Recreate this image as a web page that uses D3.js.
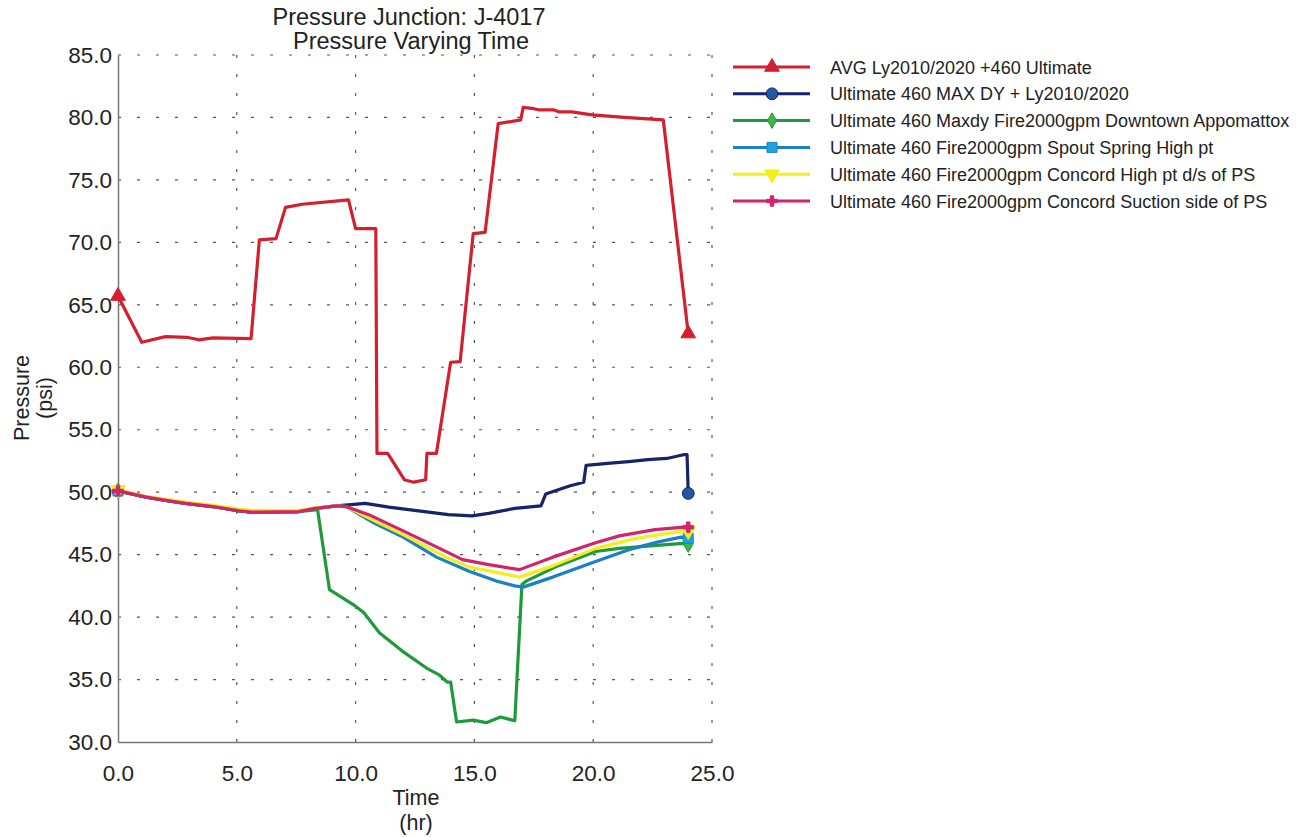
<!DOCTYPE html>
<html>
<head>
<meta charset="utf-8">
<script src="https://cdn.jsdelivr.net/npm/d3@7"></script>
<style>
  body { margin: 0; background: #fff; }
  svg text { font-family: "Liberation Sans", Arial, sans-serif; fill: #222; }
  .grid line { stroke: #555; stroke-width: 1.2; stroke-dasharray: 3, 16; }
  .series { fill: none; stroke-width: 3.2; stroke-linejoin: round; }
</style>
</head>
<body>
<svg id="chart" width="1304" height="837"></svg>
<script>
// values (time in hr, pressure in psi)
var avgT = [0, 1, 2, 2.9, 3.4, 4, 5.6, 5.95, 6.65, 7.05, 7.75, 9.15, 9.7, 10.0, 10.85, 10.9, 11.35, 12.05, 12.45, 12.95, 13.0, 13.4, 14.0, 14.4, 14.95, 15.45, 16.0, 16.95, 17.05, 17.5, 17.75, 18.35, 18.55, 19.1, 19.95, 21.3, 22.95, 24];
var avgP = [65.7, 62.0, 62.45, 62.4, 62.2, 62.35, 62.3, 70.2, 70.3, 72.8, 73.05, 73.3, 73.4, 71.1, 71.1, 53.1, 53.1, 51.0, 50.8, 51.0, 53.1, 53.1, 60.4, 60.45, 70.7, 70.8, 79.5, 79.8, 80.8, 80.7, 80.6, 80.6, 80.45, 80.45, 80.2, 80.0, 79.8, 62.7];

var maxT = [0, 1.2, 2.15, 2.85, 4.0, 5.1, 5.65, 7.6, 8.3, 9.2, 10.4, 11.4, 12.65, 13.9, 14.9, 15.6, 16.7, 17.8, 18.0, 19.0, 19.6, 19.7, 20.6, 21.5, 22.3, 23.1, 23.8, 23.95, 24];
var maxP = [50.1, 49.6, 49.3, 49.1, 48.85, 48.5, 48.4, 48.45, 48.7, 48.9, 49.1, 48.8, 48.5, 48.2, 48.1, 48.3, 48.7, 48.9, 49.85, 50.5, 50.8, 52.15, 52.3, 52.45, 52.6, 52.7, 53.0, 53.0, 49.9];

var downtownT = [0, 1.2, 2.15, 2.85, 4.0, 5.1, 5.65, 7.6, 8.4, 8.9, 9.9, 10.35, 11.0, 11.95, 13.0, 13.5, 13.85, 14.0, 14.25, 14.95, 15.5, 16.1, 16.7, 17.0, 17.2, 18.4, 20.1, 21.1, 22.4, 23.8, 24];
var downtownP = [50.1, 49.6, 49.3, 49.1, 48.85, 48.5, 48.4, 48.45, 48.6, 42.2, 41.0, 40.35, 38.75, 37.3, 35.9, 35.4, 34.8, 34.8, 31.6, 31.75, 31.55, 32.0, 31.7, 42.6, 42.9, 44.0, 45.25, 45.5, 45.7, 45.9, 45.8];

var spoutT = [0, 1.2, 2.15, 2.85, 4.0, 5.1, 5.65, 7.6, 8.3, 9.2, 9.6, 10.8, 12.0, 13.4, 14.8, 15.9, 16.7, 17.05, 18.3, 20.1, 21.5, 22.7, 23.7, 24];
var spoutP = [50.1, 49.6, 49.3, 49.1, 48.85, 48.5, 48.4, 48.45, 48.7, 48.9, 48.85, 47.5, 46.4, 44.8, 43.65, 42.9, 42.5, 42.4, 43.2, 44.45, 45.4, 46.0, 46.4, 46.3];

var concordHighT = [0, 1.2, 2.15, 2.85, 4.0, 5.1, 5.65, 7.6, 8.3, 9.2, 9.6, 10.8, 12.0, 13.8, 14.8, 15.9, 16.9, 18.3, 20.1, 21.8, 23.8, 24];
var concordHighP = [50.2, 49.65, 49.4, 49.2, 48.95, 48.65, 48.55, 48.55, 48.75, 48.9, 48.85, 47.7, 46.6, 44.8, 44.0, 43.6, 43.2, 44.1, 45.5, 46.3, 46.9, 46.9];

var concordSucT = [0, 1.2, 2.15, 2.85, 4.0, 5.1, 5.65, 7.6, 8.3, 9.2, 9.6, 10.55, 11.0, 12.0, 13.1, 14.5, 15.6, 16.9, 18.3, 20.1, 21.1, 22.6, 23.8, 24];
var concordSucP = [50.1, 49.6, 49.3, 49.1, 48.85, 48.5, 48.4, 48.45, 48.7, 48.9, 48.85, 48.2, 47.8, 46.9, 45.9, 44.6, 44.2, 43.8, 44.8, 45.95, 46.5, 47.0, 47.2, 47.2];

var seriesNames = [
  "AVG Ly2010/2020 +460 Ultimate",
  "Ultimate 460 MAX DY + Ly2010/2020",
  "Ultimate 460 Maxdy Fire2000gpm Downtown Appomattox",
  "Ultimate 460 Fire2000gpm Spout Spring High pt",
  "Ultimate 460 Fire2000gpm Concord High pt d/s of PS",
  "Ultimate 460 Fire2000gpm Concord Suction side of PS"
];
var xTicks = [0, 5, 10, 15, 20, 25];
var yTicks = [30, 35, 40, 45, 50, 55, 60, 65, 70, 75, 80, 85];

var styles = [
  {color: "#d3202f", mark: d3.symbolTriangle, size: 95, fill: "#d3202f", rot: 0},
  {color: "#16246a", mark: d3.symbolCircle, size: 110, fill: "#2456a8", rot: 0},
  {color: "#20993a", mark: d3.symbolDiamond, size: 70, fill: "#3cb54a", rot: 0},
  {color: "#1c80c4", mark: d3.symbolSquare, size: 100, fill: "#1fa3e0", rot: 0},
  {color: "#f4ee1c", mark: d3.symbolTriangle, size: 95, fill: "#f4ee1c", rot: 180},
  {color: "#d0246c", mark: d3.symbolCross, size: 60, fill: "#d0246c", rot: 0}
];
var seriesT = [avgT, maxT, downtownT, spoutT, concordHighT, concordSucT];
var seriesP = [avgP, maxP, downtownP, spoutP, concordHighP, concordSucP];

var svg = d3.select("#chart");
svg.append("rect").attr("width", 1304).attr("height", 837).attr("fill", "#fff");

var plotLeft = 118, plotRight = 712, plotTop = 55, plotBottom = 742;
var x = d3.scaleLinear().domain([0, 25]).range([plotLeft, plotRight]);
var y = d3.scaleLinear().domain([30, 85]).range([plotBottom, plotTop]);

// dotted grid
var grid = svg.append("g").attr("class", "grid");
grid.selectAll(".h").data(yTicks.slice(1)).enter().append("line")
  .attr("x1", plotLeft).attr("x2", plotRight)
  .attr("y1", function(d){ return y(d); }).attr("y2", function(d){ return y(d); });
grid.selectAll(".v").data(xTicks.slice(1)).enter().append("line")
  .attr("y1", plotTop).attr("y2", plotBottom)
  .attr("x1", function(d){ return x(d); }).attr("x2", function(d){ return x(d); });

// axes
var xAxis = d3.axisBottom(x).tickValues(xTicks).tickSize(0).tickPadding(23)
  .tickFormat(d3.format(".1f"));
var gx = svg.append("g").attr("transform", "translate(0," + plotBottom + ")").call(xAxis);
var yAxis = d3.axisLeft(y).tickValues(yTicks).tickSize(0).tickPadding(6)
  .tickFormat(d3.format(".1f"));
var gy = svg.append("g").attr("transform", "translate(" + plotLeft + ",0)").call(yAxis);
[gx, gy].forEach(function(g){
  g.select(".domain").attr("stroke", "#777").attr("stroke-width", 1.5);
  g.selectAll("text").attr("font-size", 22.5).attr("font-family", "Liberation Sans, Arial, sans-serif").attr("fill", "#222");
});

// series
var line = d3.line()
  .x(function(d){ return x(d[0]); })
  .y(function(d){ return y(d[1]); });

seriesT.forEach(function(ts, i){
  var pts = ts.map(function(t, k){ return [t, seriesP[i][k]]; });
  var st = styles[i];
  svg.append("path").datum(pts).attr("class", "series")
    .attr("stroke", st.color).attr("d", line);
  var ends = [pts[0], pts[pts.length - 1]];
  svg.selectAll(null).data(ends).enter().append("path")
    .attr("d", d3.symbol().type(st.mark).size(st.size))
    .attr("transform", function(d){ return "translate(" + x(d[0]) + "," + y(d[1]) + ") rotate(" + st.rot + ")"; })
    .attr("fill", st.fill).attr("stroke", st.color).attr("stroke-width", 1);
});

// titles
svg.append("text").attr("x", 409).attr("y", 25).attr("text-anchor", "middle")
  .attr("font-size", 23.5).text("Pressure Junction: J-4017");
svg.append("text").attr("x", 411).attr("y", 49).attr("text-anchor", "middle")
  .attr("font-size", 23.5).text("Pressure Varying Time");
svg.append("text").attr("x", 416).attr("y", 805).attr("text-anchor", "middle")
  .attr("font-size", 21.5).text("Time");
svg.append("text").attr("x", 416).attr("y", 830).attr("text-anchor", "middle")
  .attr("font-size", 21.5).text("(hr)");
svg.append("text").attr("transform", "translate(29,398) rotate(-90)").attr("text-anchor", "middle")
  .attr("font-size", 21.5).text("Pressure");
svg.append("text").attr("transform", "translate(52,398) rotate(-90)").attr("text-anchor", "middle")
  .attr("font-size", 21.5).text("(psi)");

// legend
var legend = svg.append("g").attr("transform", "translate(733,67)");
var rows = legend.selectAll("g").data(seriesNames).enter().append("g")
  .attr("transform", function(d, i){ return "translate(0," + (i * 26.8) + ")"; });
rows.append("line").attr("x1", 0).attr("x2", 77).attr("y1", 0).attr("y2", 0)
  .attr("stroke", function(d, i){ return styles[i].color; }).attr("stroke-width", 3);
rows.append("path")
  .attr("d", function(d, i){ return d3.symbol().type(styles[i].mark).size(styles[i].size)(); })
  .attr("transform", function(d, i){ return "translate(39,0) rotate(" + styles[i].rot + ")"; })
  .attr("fill", function(d, i){ return styles[i].fill; })
  .attr("stroke", function(d, i){ return styles[i].color; });
rows.append("text").attr("x", 97).attr("y", 6.5).attr("font-size", 18)
  .text(function(d){ return d; });
</script>
</body>
</html>
